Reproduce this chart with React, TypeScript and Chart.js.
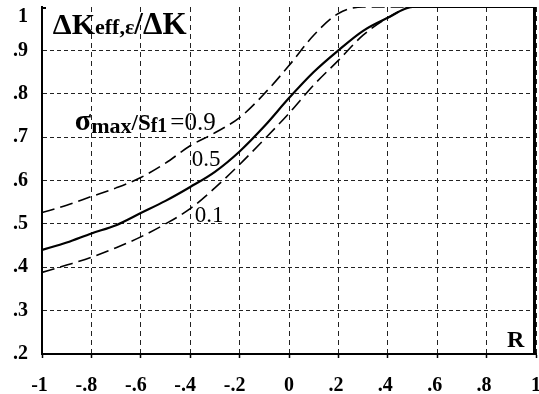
import React, { useEffect, useRef } from "react";
import { Chart, registerables } from "chart.js";

Chart.register(...registerables);

// ---- data ----
const rValues = [-1, -0.9, -0.8, -0.7, -0.6, -0.5, -0.4, -0.3, -0.2, -0.1, 0, 0.1, 0.2, 0.3, 0.4, 0.5, 0.6, 0.8, 1];
const ratio09 = [0.526, 0.543, 0.563, 0.583, 0.607, 0.64, 0.68, 0.71, 0.745, 0.8, 0.865, 0.935, 0.985, 1, 1, 1, 1, 1, 1];
const ratio05 = [0.44, 0.457, 0.478, 0.497, 0.525, 0.553, 0.585, 0.62, 0.667, 0.725, 0.79, 0.85, 0.9, 0.945, 0.975, 1, 1, 1, 1];
const ratio01 = [0.388, 0.405, 0.423, 0.445, 0.47, 0.5, 0.535, 0.583, 0.637, 0.695, 0.755, 0.82, 0.877, 0.935, 0.975, 1, 1, 1, 1];

const xTickLabels = ["-1", "-.8", "-.6", "-.4", "-.2", "0", ".2", ".4", ".6", ".8", "1"];
const yTickLabels = [".2", ".3", ".4", ".5", ".6", ".7", ".8", ".9", "1"];

type Seg = { t: string; size: number; bold: boolean; dy?: number; gap?: number };
const titleSegs: Seg[] = [
  { t: "ΔK", size: 30, bold: true },
  { t: "eff,ε", size: 22, bold: true, dy: 0 },
  { t: "/ΔK", size: 31, bold: true },
];
const label09Segs: Seg[] = [
  { t: "σ", size: 30, bold: true },
  { t: "max", size: 22, bold: true, dy: 3 },
  { t: "/S", size: 23, bold: true },
  { t: "f1", size: 20, bold: true, dy: 2 },
  { t: "=0.9", size: 25, bold: false, gap: 3 },
];
const label05Segs: Seg[] = [{ t: "0.5", size: 23, bold: false }];
const label01Segs: Seg[] = [{ t: "0.1", size: 23, bold: false }];
const rSegs: Seg[] = [{ t: "R", size: 24, bold: true }];

const annotations: { x: number; y: number; segs: Seg[] }[] = [
  { x: -0.956, y: 0.937, segs: titleSegs },
  { x: -0.867, y: 0.716, segs: label09Segs },
  { x: -0.394, y: 0.633, segs: label05Segs },
  { x: -0.382, y: 0.504, segs: label01Segs },
  { x: 0.883, y: 0.216, segs: rSegs },
];

const FONT = "'Liberation Serif', 'Times New Roman', serif";

const framePlugin = {
  id: "rightFrame",
  afterDraw(chart: any) {
    const ctx = chart.ctx;
    const area = chart.chartArea;
    ctx.save();
    ctx.setLineDash([]);
    ctx.fillStyle = "#000";
    ctx.fillRect(Math.round(area.right) - 3, area.top, 3, area.bottom - area.top);
    ctx.fillRect(area.left, area.top, 4, 2);
    ctx.restore();
  },
};

const textPlugin = {
  id: "richText",
  afterDraw(chart: any) {
    const ctx = chart.ctx;
    const xs = chart.scales.x;
    const ys = chart.scales.y;
    ctx.save();
    ctx.fillStyle = "#000";
    ctx.textBaseline = "alphabetic";
    ctx.textAlign = "left";
    for (const a of annotations) {
      let px = xs.getPixelForValue(a.x);
      const py = ys.getPixelForValue(a.y);
      for (const s of a.segs) {
        px += s.gap || 0;
        ctx.font = `${s.bold ? "bold " : ""}${s.size}px ${FONT}`;
        ctx.fillText(s.t, px, py + (s.dy || 0));
        px += ctx.measureText(s.t).width;
      }
    }
    ctx.restore();
  },
};

function padX(label: string): string {
  if (label.startsWith("-.")) return label + "\u2002";
  if (label.startsWith(".") || label === "-1") return label + " ";
  return label;
}

export default function App() {
  const ref = useRef<HTMLCanvasElement | null>(null);
  useEffect(() => {
    if (!ref.current) return;
    const mk = (vals: number[]) => rValues.map((x, i) => ({ x, y: vals[i] }));
    const chart = new Chart(ref.current, {
      type: "line",
      data: {
        datasets: [
          {
            label: "0.9",
            data: mk(ratio09),
            borderColor: "#000",
            borderWidth: 1.6,
            borderDash: [13, 6],
            pointRadius: 0,
            cubicInterpolationMode: "monotone",
            fill: false,
          },
          {
            label: "0.5",
            data: mk(ratio05),
            borderColor: "#000",
            borderWidth: 2.2,
            pointRadius: 0,
            cubicInterpolationMode: "monotone",
            fill: false,
          },
          {
            label: "0.1",
            data: mk(ratio01),
            borderColor: "#000",
            borderWidth: 1.6,
            borderDash: [13, 6],
            pointRadius: 0,
            cubicInterpolationMode: "monotone",
            fill: false,
          },
        ],
      },
      options: {
        animation: false,
        responsive: true,
        maintainAspectRatio: false,
        layout: { padding: { top: 7, right: 3, left: 0, bottom: 0 } },
        plugins: { legend: { display: false }, tooltip: { enabled: false } },
        scales: {
          x: {
            type: "linear",
            min: -1,
            max: 1,
            ticks: {
              stepSize: 0.2,
              autoSkip: false,
              maxRotation: 0,
              padding: 16,
              color: "#000",
              font: { family: FONT, size: 20, weight: "bold" },
              callback: (_v: any, i: number) => padX(xTickLabels[i] ?? ""),
            },
            grid: {
              color: (c: any) => (c.index === 0 ? "rgba(0,0,0,0)" : "#222"),
              lineWidth: 1,
              drawTicks: true,
              tickLength: 4,
              tickColor: "#000",
              tickWidth: 1.5,
              tickBorderDash: [],
            },
            border: { display: true, color: "#000", width: 2, dash: [5, 4] },
            afterFit: (s: any) => {
              s.height = 40;
              s.paddingLeft = 0;
              s.paddingRight = 0;
            },
          },
          y: {
            type: "linear",
            min: 0.2,
            max: 1,
            ticks: {
              stepSize: 0.1,
              autoSkip: false,
              padding: 14,
              color: "#000",
              font: { family: FONT, size: 20, weight: "bold", lineHeight: 1 },
              callback: (_v: any, i: number) => {
                const l = yTickLabels[i] ?? "";
                return i === yTickLabels.length - 1 ? ["", l] : l;
              },
            },
            grid: {
              color: (c: any) => (c.index === 0 || c.index === 8 ? "rgba(0,0,0,0)" : "#222"),
              lineWidth: 1,
              drawTicks: false,
            },
            border: { display: true, color: "#000", width: 2, dash: [4, 3] },
            afterFit: (s: any) => {
              s.width = 42;
              s.paddingTop = 0;
              s.paddingBottom = 0;
            },
          },
        },
      },
      plugins: [framePlugin, textPlugin],
    } as any);
    return () => chart.destroy();
  }, []);

  return (
    <div style={{ position: "fixed", left: 0, top: 0, width: 539, height: 394, background: "#fff" }}>
      <canvas ref={ref} />
    </div>
  );
}
